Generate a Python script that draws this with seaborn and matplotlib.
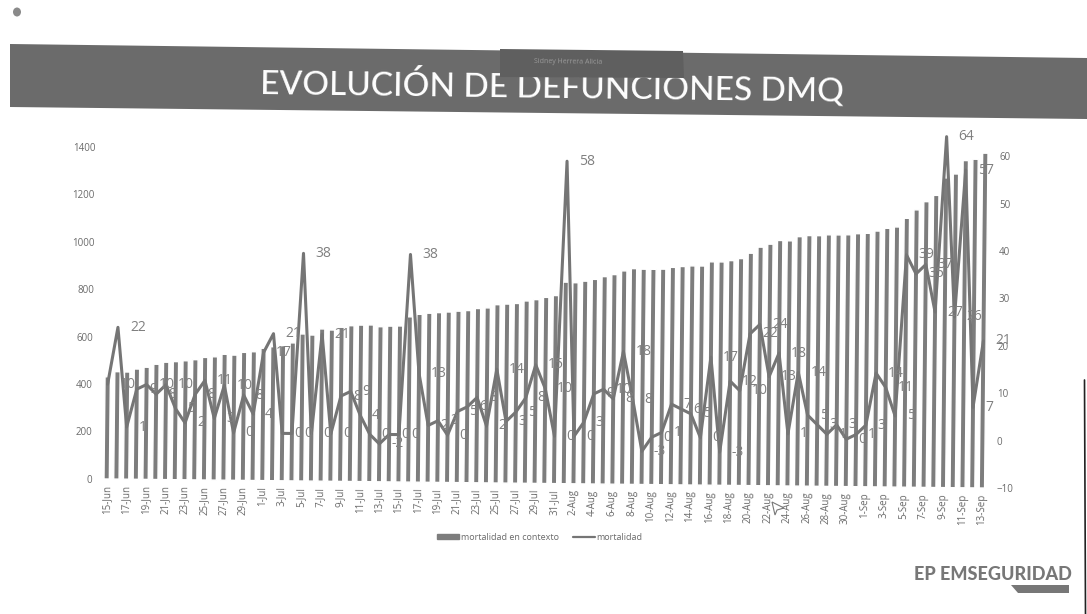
import matplotlib
matplotlib.use("Agg")
import matplotlib.pyplot as plt
import pandas as pd
import seaborn as sns
from matplotlib.lines import Line2D
from matplotlib.patches import Patch, Polygon, Ellipse
from matplotlib.transforms import Affine2D

dates = pd.date_range("2020-06-15", "2020-09-13")
day_labels = [f"{d.day}-{d.strftime('%b')}" for d in dates]

mortalidad_contexto = [431,453,452,465,473,486,495,498,502,507,517,520,531,528,540,543,558,565,570,582,
                       620,616,642,638,650,657,660,661,654,657,658,697,708,713,716,719,723,726,735,738,
                       752,755,758,769,775,785,793,850,848,855,863,875,884,900,910,908,908,909,917,921,
                       924,924,942,942,948,957,980,1006,1019,1035,1034,1052,1057,1057,1061,1061,1062,1067,1069,1079,
                       1091,1097,1134,1170,1205,1232,1306,1323,1380,1386,1412]
mortalidad = [10,22,1,9,10,8,10,5,2,8,11,3,10,0,8,4,17,21,0,0,
              38,0,21,0,8,9,4,0,-2,0,0,38,13,2,3,0,5,6,8,2,
              14,3,5,8,15,10,0,58,0,3,9,10,8,18,8,-3,0,1,7,6,
              5,0,17,-3,12,10,22,24,13,18,1,14,5,3,1,3,0,1,3,14,
              11,5,39,35,37,27,64,26,57,7,21]
left_ticks = [0, 200, 400, 600, 800, 1000, 1200, 1400]
right_ticks = [-10, 0, 10, 20, 30, 40, 50, 60]
title_text = "EVOLUCIÓN DE DEFUNCIONES DMQ"

GRAY = "#7d7d7d"
TXT = "#6a6a6a"
W, H = 1087, 614

sns.set_theme(style="white")
plt.rcParams["font.family"] = ["Open Sans", "DejaVu Sans"]

fig = plt.figure(figsize=(W / 100, H / 100), dpi=100, facecolor="white")
ax = fig.add_axes([101.8 / W, (H - 479) / H, 885 / W, 332 / H])
ax.patch.set_alpha(0)

tilt = Affine2D().rotate_deg_around(106.7, H - 479, -0.59)

df = pd.DataFrame({"dia": day_labels, "contexto": mortalidad_contexto})
sns.barplot(data=df, x="dia", y="contexto", color=GRAY, saturation=1, width=0.55, ax=ax)
ax.set_xlim(-0.5, 90.5)
ax.set_ylim(0, 1400)
ax.set_xlabel("")
ax.set_ylabel("")
ax.set_yticks(left_ticks)
ax.set_xticks(range(0, 91, 2), day_labels[::2])
ax.tick_params(axis="x", labelsize=7, rotation=89.4, length=0, pad=4, labelcolor=TXT)
ax.tick_params(axis="y", labelsize=7, length=0, pad=7, labelcolor=TXT)
for p in ax.patches:
    p.set_transform(ax.transData + tilt)
    p.set_clip_on(False)

tw = ax.twinx()
tw.patch.set_alpha(0)
sns.lineplot(x=list(range(91)), y=mortalidad, color="#757575", lw=2.2, errorbar=None, ax=tw)
tw.set_xlim(-0.5, 90.5)
tw.set_ylim(-10, 60)
tw.set_yticks(right_ticks)
tw.tick_params(axis="y", labelsize=7, length=0, pad=7, labelcolor=TXT)
tw.grid(False)
ax.grid(False)
for l in tw.lines:
    l.set_transform(tw.transData + tilt)
    l.set_clip_on(False)
for a in (ax, tw):
    for s in a.spines.values():
        s.set_visible(False)
    for axis in (a.xaxis, a.yaxis):
        for t in axis.get_major_ticks():
            t.label1.set_transform(t.label1.get_transform() + tilt)
            t.label2.set_transform(t.label2.get_transform() + tilt)

for i, v in enumerate(mortalidad):
    tw.annotate(str(v), xy=(i, v), xycoords=tw.transData + tilt, xytext=(12, 0),
                textcoords="offset pixels", ha="left", va="center",
                fontsize=10, color="#808080", family="Open Sans", annotation_clip=False)

handles = [Patch(color=GRAY), Line2D([], [], color="#757575", lw=1.6)]
fig.legend(handles, ["mortalidad en contexto", "mortalidad"], ncol=2, frameon=False,
           loc="center", bbox_to_anchor=(540 / W, 1 - 537 / H), fontsize=6.5,
           labelcolor=TXT, handlelength=2.4, columnspacing=1.6, handletextpad=0.2,
           handleheight=0.5)


def px(x, y):
    return (x / W, 1 - y / H)


fig.add_artist(Polygon([px(10, 44), px(1087, 58), px(1087, 119), px(10, 107)], closed=True,
                       transform=fig.transFigure, fc="#6b6b6b", ec="none", zorder=5))
fig.text(*px(552, 86), title_text, color="white", fontsize=24, ha="center", va="center",
         rotation=-0.75, family="Lato", fontweight="medium", zorder=6)
fig.add_artist(Polygon([px(500, 49), px(683, 51), px(684, 78), px(500, 77)], closed=True,
                       transform=fig.transFigure, fc="#5f5f5f", ec="none", zorder=7))
fig.text(*px(568, 62), "Sidney Herrera Alicia", color="#9a9a9a", fontsize=5, ha="center", va="center",
         rotation=-0.7, zorder=8)
fig.add_artist(Ellipse(px(17, 12), 8 / W, 9 / H, transform=fig.transFigure, fc="#8a8a8a", ec="none"))

fig.text(*px(993, 574), "EP EMSEGURIDAD", color="#777777", fontsize=13, fontweight="black",
         ha="center", va="center", family="Lato", zorder=6)
fig.add_artist(Polygon([px(1011, 585), px(1069, 585), px(1069, 593), px(1018, 593)], closed=True,
                       transform=fig.transFigure, fc="#777777", ec="none"))
fig.add_artist(Line2D([1084.5 / W, 1085.5 / W], [1 - 380 / H, 0], transform=fig.transFigure,
                      color="#222222", lw=1.2))
fig.add_artist(Polygon([px(772, 502), px(784, 508), px(777, 510), px(775, 515)], closed=True,
                       transform=fig.transFigure, fc="white", ec="#777777", lw=0.8, zorder=9))

fig.savefig("out.png", dpi=100)
